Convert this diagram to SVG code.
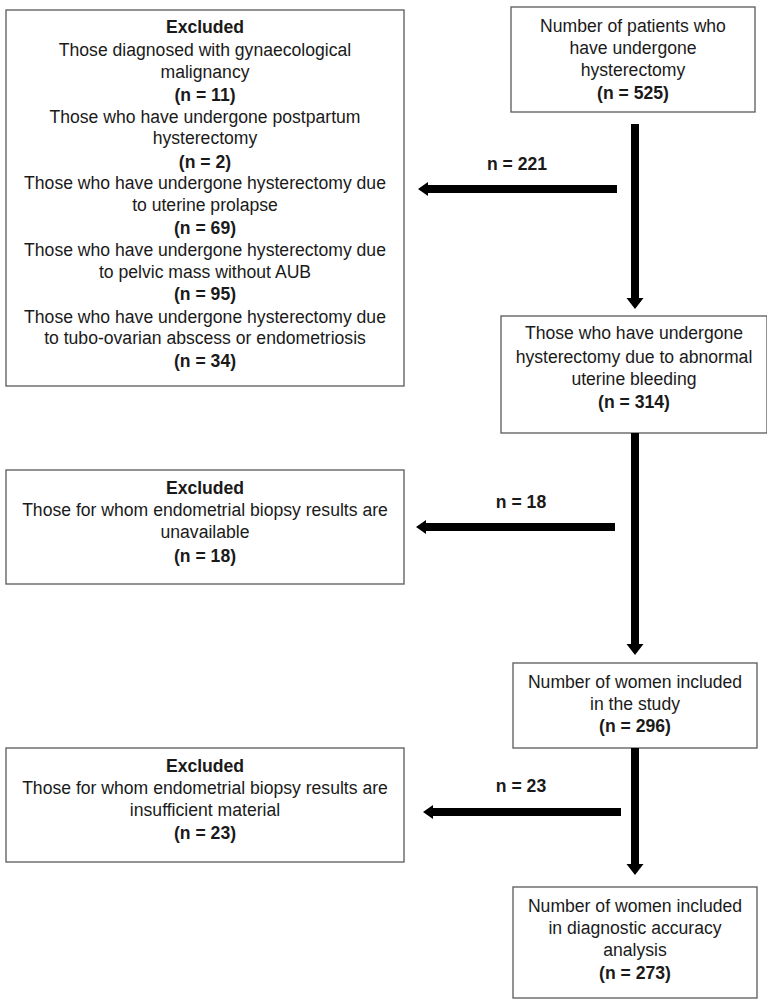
<svg xmlns="http://www.w3.org/2000/svg" width="767" height="1003" viewBox="0 0 767 1003">
<style>
.box{fill:#fff;stroke:#595959;stroke-width:1.3}
text{font-family:"Liberation Sans",Arial,sans-serif;font-size:17.6px;fill:#1a1a1a;text-anchor:middle}
.b{font-weight:bold}
.arr{fill:#000}
</style>
<rect width="767" height="1003" fill="#fff"/>
<g id="excl1">
<rect class="box" x="6" y="10" width="398" height="376"/>
<text x="205" y="33" class="b">Excluded</text>
<text x="205" y="56">Those diagnosed with gynaecological</text>
<text x="205" y="78">malignancy</text>
<text x="205" y="101" class="b">(n = 11)</text>
<text x="205" y="123">Those who have undergone postpartum</text>
<text x="205" y="144">hysterectomy</text>
<text x="205" y="168" class="b">(n = 2)</text>
<text x="205" y="189">Those who have undergone hysterectomy due</text>
<text x="205" y="211">to uterine prolapse</text>
<text x="205" y="234" class="b">(n = 69)</text>
<text x="205" y="256">Those who have undergone hysterectomy due</text>
<text x="205" y="278">to pelvic mass without AUB</text>
<text x="205" y="300" class="b">(n = 95)</text>
<text x="205" y="323">Those who have undergone hysterectomy due</text>
<text x="205" y="344">to tubo-ovarian abscess or endometriosis</text>
<text x="205" y="367" class="b">(n = 34)</text>
</g>
<g id="total">
<rect class="box" x="511" y="7" width="244" height="105"/>
<text x="633" y="32">Number of patients who</text>
<text x="633" y="54">have undergone</text>
<text x="633" y="76">hysterectomy</text>
<text x="633" y="99" class="b">(n = 525)</text>
</g>
<g id="aub">
<rect class="box" x="501" y="316" width="266" height="117"/>
<text x="634" y="339">Those who have undergone</text>
<text x="634" y="363">hysterectomy due to abnormal</text>
<text x="634" y="385">uterine bleeding</text>
<text x="634" y="408" class="b">(n = 314)</text>
</g>
<g id="excl2">
<rect class="box" x="6" y="470" width="398" height="114"/>
<text x="205" y="494" class="b">Excluded</text>
<text x="205" y="516">Those for whom endometrial biopsy results are</text>
<text x="205" y="538">unavailable</text>
<text x="205" y="562" class="b">(n = 18)</text>
</g>
<g id="study">
<rect class="box" x="513" y="663" width="244" height="85"/>
<text x="635" y="688">Number of women included</text>
<text x="635" y="710">in the study</text>
<text x="635" y="732" class="b">(n = 296)</text>
</g>
<g id="excl3">
<rect class="box" x="6" y="748" width="398" height="114"/>
<text x="205" y="772" class="b">Excluded</text>
<text x="205" y="794">Those for whom endometrial biopsy results are</text>
<text x="205" y="816">insufficient material</text>
<text x="205" y="839" class="b">(n = 23)</text>
</g>
<g id="final">
<rect class="box" x="513" y="887" width="244" height="111"/>
<text x="635" y="912">Number of women included</text>
<text x="635" y="934">in diagnostic accuracy</text>
<text x="635" y="956">analysis</text>
<text x="635" y="979" class="b">(n = 273)</text>
</g>
<g id="connectors">
<polygon class="arr" points="631,124 639,124 639,298 643.5,298 635,309 626.5,298 631,298"/>
<polygon class="arr" points="617,185 428,185 428,182 418,189 428,196 428,193 617,193"/>
<polygon class="arr" points="631,433 639,433 639,644 643.5,644 635,655 626.5,644 631,644"/>
<polygon class="arr" points="615,523 426,523 426,520 416,527 426,534 426,531 615,531"/>
<polygon class="arr" points="631,748 639,748 639,864 643.5,864 635,875 626.5,864 631,864"/>
<polygon class="arr" points="621,808 433,808 433,805 423,812 433,819 433,816 621,816"/>
<text x="517" y="170" class="b">n = 221</text>
<text x="521" y="508" class="b">n = 18</text>
<text x="521" y="792" class="b">n = 23</text>
</g>
</svg>
